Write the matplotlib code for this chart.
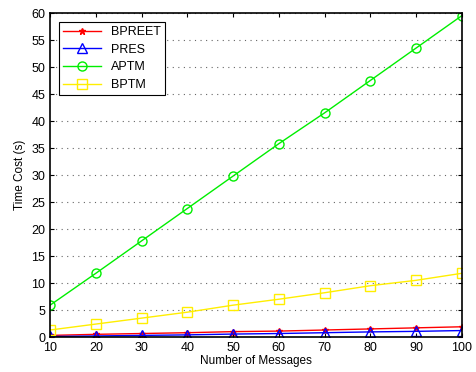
import numpy as np
import matplotlib.pyplot as plt

plt.rcParams['font.family'] = ['Liberation Sans', 'DejaVu Sans']

# data
msgs = [10, 20, 30, 40, 50, 60, 70, 80, 90, 100]
bpreet = [0.3, 0.5, 0.65, 0.8, 1.0, 1.1, 1.3, 1.5, 1.7, 1.9]
pres = [0.1, 0.2, 0.3, 0.4, 0.55, 0.65, 0.8, 0.95, 1.05, 1.2]
aptm = [5.9, 11.8, 17.8, 23.8, 29.8, 35.8, 41.5, 47.5, 53.5, 59.5]
bptm = [1.3, 2.4, 3.5, 4.6, 5.9, 7.0, 8.2, 9.5, 10.5, 11.8]

fig = plt.figure(figsize=(4.77, 3.72), dpi=100)
ax = fig.add_axes([0.105, 0.094, 0.863, 0.871])

ax.plot(msgs, bpreet, color='red', marker='*', markersize=5, linewidth=1, label='BPREET')
ax.plot(msgs, pres, color='blue', marker='^', markersize=6.5, markerfacecolor='none', linewidth=1, label='PRES')
ax.plot(msgs, aptm, color='#00ee00', marker='o', markersize=6.5, markerfacecolor='none', linewidth=1, label='APTM')
ax.plot(msgs, bptm, color='#ffee00', marker='s', markersize=6.5, markerfacecolor='none', linewidth=1, label='BPTM')

ax.set_xlim(10, 100)
ax.set_ylim(0, 60)
ax.set_xticks(msgs)
ax.set_yticks(np.arange(0, 61, 5))
ax.yaxis.grid(True, linestyle=(0, (1, 4)), color='#666666', linewidth=0.8)
ax.tick_params(direction='in', top=True, right=True, labelsize=9, length=3)
for s in ax.spines.values():
    s.set_linewidth(1.2)

ax.set_xlabel('Number of Messages', fontsize=8.5, labelpad=1)
ax.set_ylabel('Time Cost (s)', fontsize=8.5)

leg = ax.legend(loc='upper left', fontsize=9, fancybox=False, framealpha=1,
                edgecolor='black', handlelength=3.0, borderaxespad=0.7,
                labelspacing=0.45, borderpad=0.35)
leg.get_frame().set_linewidth(0.8)

plt.savefig('out.png', dpi=100)
